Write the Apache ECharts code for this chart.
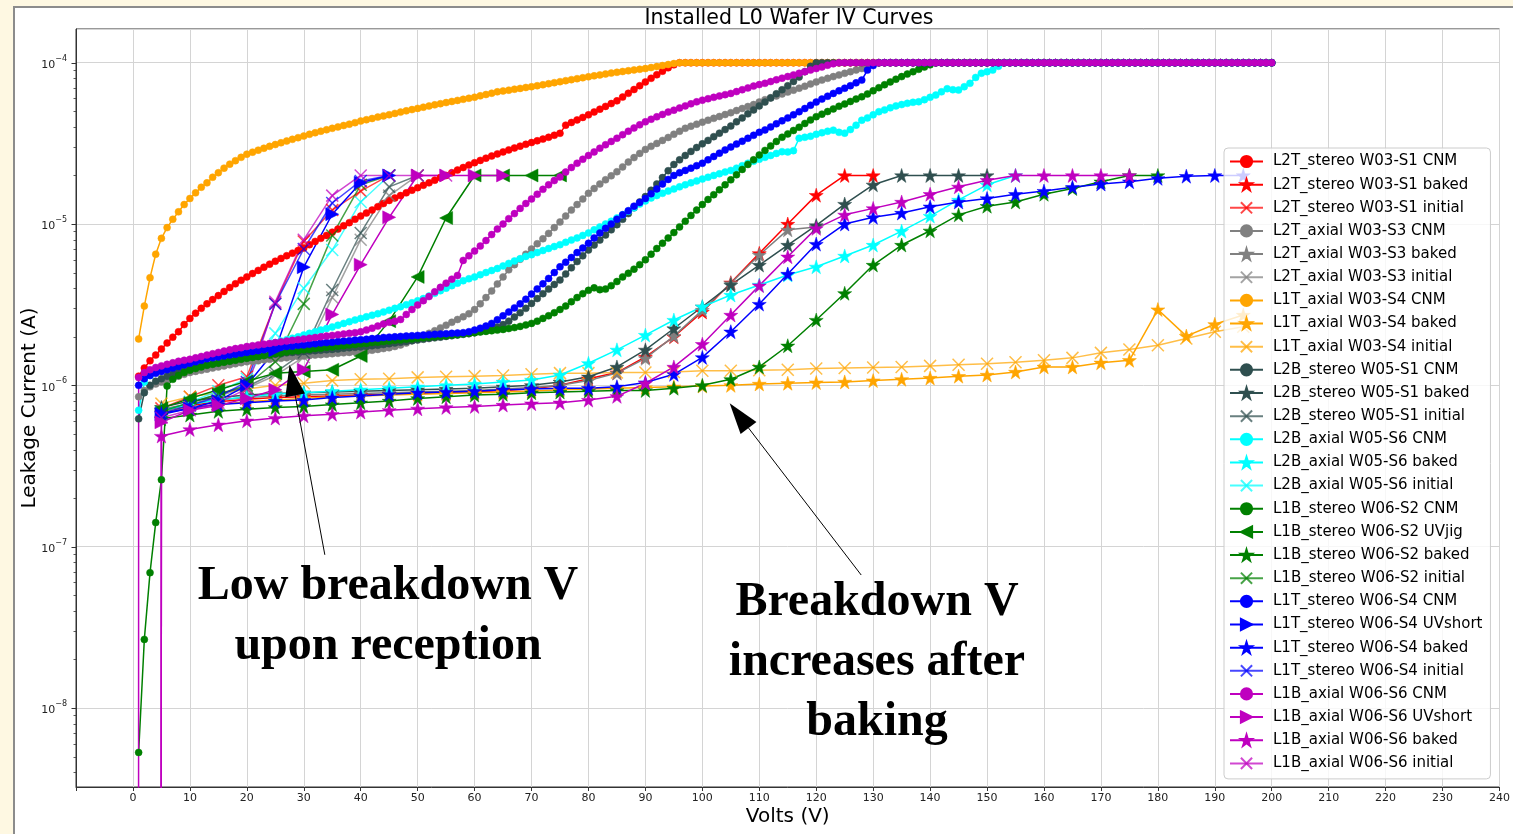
<!DOCTYPE html>
<html>
<head>
<meta charset="utf-8">
<title>Installed L0 Wafer IV Curves</title>
<script src="https://cdn.jsdelivr.net/npm/echarts@6/dist/echarts.min.js"></script>
<style>
  html, body { margin: 0; padding: 0; width: 1513px; height: 834px; overflow: hidden; background: #fef8e2; }
  #frame { position: absolute; left: 13px; top: 6px; width: 1530px; height: 850px; background: #ffffff; border: 2px solid #8c8c8c; box-sizing: border-box; }
  #chart { position: absolute; left: 0; top: 0; width: 1513px; height: 834px; }
</style>
</head>
<body>
<div id="frame"></div>
<div id="chart"></div>
<script>
// Bias voltage grids (V): CNM sweeps in 1 V steps, the other sweeps in 5 V steps.
const VOLTS_CNM = [
  0,1,2,3,4,5,6,7,8,9,10,11,12,13,14,15,16,17,18,19,20,21,22,23,24,25,26,27,28,29,30,
  31,32,33,34,35,36,37,38,39,40,41,42,43,44,45,46,47,48,49,50,51,52,53,54,55,56,57,58,59,60,
  61,62,63,64,65,66,67,68,69,70,71,72,73,74,75,76,77,78,79,80,81,82,83,84,85,86,87,88,89,90,
  91,92,93,94,95,96,97,98,99,100,101,102,103,104,105,106,107,108,109,110,111,112,113,114,115,116,117,118,119,120,
  121,122,123,124,125,126,127,128,129,130,131,132,133,134,135,136,137,138,139,140,141,142,143,144,145,146,147,148,149,150,
  151,152,153,154,155,156,157,158,159,160,161,162,163,164,165,166,167,168,169,170,171,172,173,174,175,176,177,178,179,180,
  181,182,183,184,185,186,187,188,189,190,191,192,193,194,195,196,197,198,199,200
];
const VOLTS_STEP = [0,5,10,15,20,25,30,35,40,45,50,55,60,65,70,75,80,85,90,95,100,105,110,115,120,125,130,135,140,145,150,155,160,165,170,175,180,185,190,195,200];

// Leakage current (A). null = no reading; 1e-300 = zero-bias reading of 0 A (falls off the log axis).
const cnmL2TstereoW03S1 = [null,
  1.14e-6,1.28e-6,1.42e-6,1.54e-6,1.68e-6,1.83e-6,1.99e-6,2.15e-6,2.38e-6,2.6e-6,
  2.8e-6,3.0e-6,3.2e-6,3.4e-6,3.6e-6,3.82e-6,4.04e-6,4.26e-6,4.48e-6,4.7e-6,
  4.93e-6,5.16e-6,5.4e-6,5.64e-6,5.88e-6,6.12e-6,6.36e-6,6.6e-6,6.85e-6,7.1e-6,
  7.45e-6,7.8e-6,8.15e-6,8.5e-6,8.9e-6,9.3e-6,9.75e-6,1.02e-5,1.07e-5,1.12e-5,
  1.17e-5,1.22e-5,1.28e-5,1.34e-5,1.4e-5,1.45e-5,1.5e-5,1.56e-5,1.62e-5,1.68e-5,
  1.74e-5,1.8e-5,1.87e-5,1.94e-5,2.0e-5,2.08e-5,2.16e-5,2.24e-5,2.32e-5,2.4e-5,
  2.48e-5,2.56e-5,2.64e-5,2.72e-5,2.8e-5,2.88e-5,2.96e-5,3.04e-5,3.12e-5,3.2e-5,
  3.28e-5,3.36e-5,3.45e-5,3.55e-5,3.65e-5,4.1e-5,4.26e-5,4.42e-5,4.58e-5,4.75e-5,
  4.95e-5,5.15e-5,5.36e-5,5.58e-5,5.8e-5,6.12e-5,6.46e-5,6.82e-5,7.2e-5,7.6e-5,
  8.0e-5,8.42e-5,8.86e-5,9.3e-5,9.7e-5,1e-4,1e-4,1e-4,1e-4,1e-4,
  1e-4,1e-4,1e-4,1e-4,1e-4,1e-4,1e-4,1e-4,1e-4,1e-4,
  1e-4,1e-4,1e-4,1e-4,1e-4,1e-4,1e-4,1e-4,1e-4,1e-4,
  1e-4,1e-4,1e-4,1e-4,1e-4,1e-4,1e-4,1e-4,1e-4,1e-4,
  1e-4,1e-4,1e-4,1e-4,1e-4,1e-4,1e-4,1e-4,1e-4,1e-4,
  1e-4,1e-4,1e-4,1e-4,1e-4,1e-4,1e-4,1e-4,1e-4,1e-4,
  1e-4,1e-4,1e-4,1e-4,1e-4,1e-4,1e-4,1e-4,1e-4,1e-4,
  1e-4,1e-4,1e-4,1e-4,1e-4,1e-4,1e-4,1e-4,1e-4,1e-4,
  1e-4,1e-4,1e-4,1e-4,1e-4,1e-4,1e-4,1e-4,1e-4,1e-4,
  1e-4,1e-4,1e-4,1e-4,1e-4,1e-4,1e-4,1e-4,1e-4,1e-4,
  1e-4,1e-4,1e-4,1e-4,1e-4,1e-4,1e-4,1e-4,1e-4,1e-4
];
const bakedL2TstereoW03S1 = [null,7.0e-7,7.5e-7,7.9e-7,8.2e-7,8.4e-7,8.5e-7,8.6e-7,8.7e-7,8.8e-7,8.9e-7,9.0e-7,9.1e-7,9.3e-7,9.5e-7,1.0e-6,1.1e-6,1.2e-6,1.5e-6,2.0e-6,2.85e-6,4.33e-6,6.58e-6,1.0e-5,1.51e-5,2.0e-5,2.0e-5];
const initialL2TstereoW03S1 = [null,7.2e-7,8.5e-7,1.0e-6,1.13e-6,3.22e-6,7.8e-6,1.22e-5,1.6e-5,2.0e-5];

const cnmL2TaxialW03S3 = [null,
  8.5e-7,9.3e-7,9.8e-7,1.02e-6,1.05e-6,1.08e-6,1.11e-6,1.14e-6,1.17e-6,1.2e-6,
  1.22e-6,1.24e-6,1.26e-6,1.28e-6,1.3e-6,1.32e-6,1.34e-6,1.36e-6,1.38e-6,1.4e-6,
  1.41e-6,1.42e-6,1.44e-6,1.45e-6,1.46e-6,1.47e-6,1.48e-6,1.5e-6,1.51e-6,1.52e-6,
  1.53e-6,1.54e-6,1.55e-6,1.56e-6,1.57e-6,1.58e-6,1.59e-6,1.6e-6,1.61e-6,1.62e-6,
  1.63e-6,1.65e-6,1.67e-6,1.69e-6,1.71e-6,1.74e-6,1.78e-6,1.83e-6,1.89e-6,1.95e-6,
  2.02e-6,2.1e-6,2.18e-6,2.27e-6,2.36e-6,2.46e-6,2.56e-6,2.66e-6,2.78e-6,2.95e-6,
  3.2e-6,3.5e-6,3.85e-6,4.25e-6,4.7e-6,5.2e-6,5.6e-6,6.05e-6,6.5e-6,7.0e-6,
  7.55e-6,8.1e-6,8.75e-6,9.5e-6,1.03e-5,1.12e-5,1.22e-5,1.32e-5,1.43e-5,1.55e-5,
  1.66e-5,1.77e-5,1.88e-5,1.99e-5,2.11e-5,2.26e-5,2.42e-5,2.58e-5,2.74e-5,2.9e-5,
  3.03e-5,3.16e-5,3.3e-5,3.44e-5,3.6e-5,3.76e-5,3.92e-5,4.04e-5,4.16e-5,4.28e-5,
  4.4e-5,4.52e-5,4.64e-5,4.77e-5,4.9e-5,5.05e-5,5.2e-5,5.35e-5,5.5e-5,5.7e-5,
  5.9e-5,6.06e-5,6.22e-5,6.4e-5,6.58e-5,6.76e-5,6.95e-5,7.15e-5,7.38e-5,7.6e-5,
  7.8e-5,8.0e-5,8.2e-5,8.4e-5,8.6e-5,8.8e-5,9.0e-5,9.2e-5,9.45e-5,9.75e-5,
  1e-4,1e-4,1e-4,1e-4,1e-4,1e-4,1e-4,1e-4,1e-4,1e-4,
  1e-4,1e-4,1e-4,1e-4,1e-4,1e-4,1e-4,1e-4,1e-4,1e-4,
  1e-4,1e-4,1e-4,1e-4,1e-4,1e-4,1e-4,1e-4,1e-4,1e-4,
  1e-4,1e-4,1e-4,1e-4,1e-4,1e-4,1e-4,1e-4,1e-4,1e-4,
  1e-4,1e-4,1e-4,1e-4,1e-4,1e-4,1e-4,1e-4,1e-4,1e-4,
  1e-4,1e-4,1e-4,1e-4,1e-4,1e-4,1e-4,1e-4,1e-4,1e-4,
  1e-4,1e-4,1e-4,1e-4,1e-4,1e-4,1e-4,1e-4,1e-4,1e-4
];
const bakedL2TaxialW03S3 = [null,7.1e-7,7.7e-7,8.1e-7,8.4e-7,8.6e-7,8.7e-7,8.8e-7,8.9e-7,9.0e-7,9.1e-7,9.2e-7,9.3e-7,9.5e-7,9.7e-7,1.0e-6,1.07e-6,1.19e-6,1.47e-6,2.02e-6,2.93e-6,4.29e-6,6.43e-6,9.2e-6,9.6e-6];
const initialL2TaxialW03S3 = [null,6.6e-7,7.6e-7,8.6e-7,9.6e-7,1.15e-6,1.5e-6,3.5e-6,8.0e-6,1.5e-5,2.0e-5];

const cnmL1TaxialW03S4 = [null,
  1.94e-6,3.1e-6,4.65e-6,6.5e-6,8.15e-6,9.5e-6,1.07e-5,1.19e-5,1.32e-5,1.44e-5,
  1.56e-5,1.69e-5,1.8e-5,1.95e-5,2.08e-5,2.22e-5,2.35e-5,2.47e-5,2.59e-5,2.71e-5,
  2.79e-5,2.87e-5,2.95e-5,3.03e-5,3.11e-5,3.19e-5,3.27e-5,3.35e-5,3.43e-5,3.51e-5,
  3.6e-5,3.68e-5,3.76e-5,3.84e-5,3.92e-5,4.0e-5,4.08e-5,4.16e-5,4.25e-5,4.35e-5,
  4.43e-5,4.51e-5,4.6e-5,4.68e-5,4.76e-5,4.85e-5,4.94e-5,5.03e-5,5.12e-5,5.21e-5,
  5.3e-5,5.39e-5,5.48e-5,5.57e-5,5.66e-5,5.75e-5,5.84e-5,5.93e-5,6.02e-5,6.11e-5,
  6.23e-5,6.35e-5,6.47e-5,6.6e-5,6.68e-5,6.76e-5,6.85e-5,6.93e-5,7.02e-5,7.1e-5,
  7.2e-5,7.3e-5,7.41e-5,7.52e-5,7.63e-5,7.74e-5,7.85e-5,7.96e-5,8.07e-5,8.18e-5,
  8.29e-5,8.4e-5,8.51e-5,8.62e-5,8.72e-5,8.82e-5,8.92e-5,9.02e-5,9.11e-5,9.2e-5,
  9.33e-5,9.46e-5,9.6e-5,9.74e-5,9.88e-5,1e-4,1e-4,1e-4,1e-4,1e-4,
  1e-4,1e-4,1e-4,1e-4,1e-4,1e-4,1e-4,1e-4,1e-4,1e-4,
  1e-4,1e-4,1e-4,1e-4,1e-4,1e-4,1e-4,1e-4,1e-4,1e-4,
  1e-4,1e-4,1e-4,1e-4,1e-4,1e-4,1e-4,1e-4,1e-4,1e-4,
  1e-4,1e-4,1e-4,1e-4,1e-4,1e-4,1e-4,1e-4,1e-4,1e-4,
  1e-4,1e-4,1e-4,1e-4,1e-4,1e-4,1e-4,1e-4,1e-4,1e-4,
  1e-4,1e-4,1e-4,1e-4,1e-4,1e-4,1e-4,1e-4,1e-4,1e-4,
  1e-4,1e-4,1e-4,1e-4,1e-4,1e-4,1e-4,1e-4,1e-4,1e-4,
  1e-4,1e-4,1e-4,1e-4,1e-4,1e-4,1e-4,1e-4,1e-4,1e-4,
  1e-4,1e-4,1e-4,1e-4,1e-4,1e-4,1e-4,1e-4,1e-4,1e-4,
  1e-4,1e-4,1e-4,1e-4,1e-4,1e-4,1e-4,1e-4,1e-4,1e-4
];
const bakedL1TaxialW03S4 = [null,6.8e-7,7.3e-7,7.6e-7,7.9e-7,8.1e-7,8.3e-7,8.5e-7,8.6e-7,8.7e-7,8.8e-7,8.9e-7,9.0e-7,9.1e-7,9.2e-7,9.4e-7,9.5e-7,9.6e-7,9.7e-7,9.8e-7,9.9e-7,1.0e-6,1.02e-6,1.03e-6,1.04e-6,1.05e-6,1.07e-6,1.09e-6,1.11e-6,1.14e-6,1.16e-6,1.21e-6,1.3e-6,1.3e-6,1.38e-6,1.43e-6,2.95e-6,2.02e-6,2.39e-6,2.73e-6];
const initialL1TaxialW03S4 = [null,7.7e-7,8.5e-7,9.0e-7,9.5e-7,1.0e-6,1.03e-6,1.07e-6,1.09e-6,1.1e-6,1.12e-6,1.13e-6,1.14e-6,1.15e-6,1.17e-6,1.19e-6,1.19e-6,1.2e-6,1.2e-6,1.21e-6,1.23e-6,1.23e-6,1.24e-6,1.25e-6,1.27e-6,1.28e-6,1.29e-6,1.3e-6,1.32e-6,1.34e-6,1.36e-6,1.39e-6,1.43e-6,1.48e-6,1.59e-6,1.67e-6,1.77e-6,1.95e-6,2.15e-6,2.31e-6];

const cnmL2BstereoW05S1 = [null,
  6.2e-7,9.0e-7,1.0e-6,1.06e-6,1.1e-6,1.14e-6,1.18e-6,1.21e-6,1.24e-6,1.27e-6,
  1.3e-6,1.32e-6,1.34e-6,1.36e-6,1.38e-6,1.4e-6,1.42e-6,1.44e-6,1.46e-6,1.48e-6,
  1.5e-6,1.51e-6,1.53e-6,1.54e-6,1.56e-6,1.57e-6,1.59e-6,1.6e-6,1.61e-6,1.62e-6,
  1.63e-6,1.64e-6,1.65e-6,1.66e-6,1.67e-6,1.68e-6,1.7e-6,1.71e-6,1.72e-6,1.73e-6,
  1.74e-6,1.76e-6,1.77e-6,1.79e-6,1.81e-6,1.83e-6,1.85e-6,1.87e-6,1.89e-6,1.91e-6,
  1.93e-6,1.95e-6,1.97e-6,1.99e-6,2.01e-6,2.03e-6,2.05e-6,2.07e-6,2.09e-6,2.12e-6,
  2.16e-6,2.2e-6,2.25e-6,2.3e-6,2.38e-6,2.5e-6,2.65e-6,2.82e-6,3.0e-6,3.22e-6,
  3.45e-6,3.7e-6,3.95e-6,4.22e-6,4.5e-6,4.9e-6,5.35e-6,5.85e-6,6.35e-6,6.9e-6,
  7.4e-6,7.95e-6,8.55e-6,9.2e-6,9.9e-6,1.07e-5,1.16e-5,1.26e-5,1.37e-5,1.48e-5,
  1.62e-5,1.77e-5,1.94e-5,2.14e-5,2.34e-5,2.5e-5,2.66e-5,2.82e-5,2.98e-5,3.14e-5,
  3.3e-5,3.48e-5,3.66e-5,3.85e-5,4.05e-5,4.3e-5,4.55e-5,4.82e-5,5.1e-5,5.4e-5,
  5.7e-5,6.05e-5,6.42e-5,6.8e-5,7.2e-5,7.65e-5,8.15e-5,8.8e-5,9.5e-5,1e-4,
  1e-4,1e-4,1e-4,1e-4,1e-4,1e-4,1e-4,1e-4,1e-4,1e-4,
  1e-4,1e-4,1e-4,1e-4,1e-4,1e-4,1e-4,1e-4,1e-4,1e-4,
  1e-4,1e-4,1e-4,1e-4,1e-4,1e-4,1e-4,1e-4,1e-4,1e-4,
  1e-4,1e-4,1e-4,1e-4,1e-4,1e-4,1e-4,1e-4,1e-4,1e-4,
  1e-4,1e-4,1e-4,1e-4,1e-4,1e-4,1e-4,1e-4,1e-4,1e-4,
  1e-4,1e-4,1e-4,1e-4,1e-4,1e-4,1e-4,1e-4,1e-4,1e-4,
  1e-4,1e-4,1e-4,1e-4,1e-4,1e-4,1e-4,1e-4,1e-4,1e-4,
  1e-4,1e-4,1e-4,1e-4,1e-4,1e-4,1e-4,1e-4,1e-4,1e-4
];
const bakedL2BstereoW05S1 = [null,7.3e-7,8.0e-7,8.4e-7,8.7e-7,8.9e-7,9.0e-7,9.1e-7,9.2e-7,9.3e-7,9.4e-7,9.5e-7,9.6e-7,9.8e-7,1.0e-6,1.05e-6,1.13e-6,1.3e-6,1.66e-6,2.25e-6,3.07e-6,4.19e-6,5.57e-6,7.41e-6,9.8e-6,1.33e-5,1.75e-5,2.0e-5,2.0e-5,2.0e-5,2.0e-5];
const initialL2BstereoW05S1 = [null,6.8e-7,7.8e-7,8.8e-7,9.8e-7,1.2e-6,1.6e-6,3.9e-6,8.8e-6,1.7e-5,2.0e-5];

const cnmL2BaxialW05S6 = [null,
  7.0e-7,1.05e-6,1.15e-6,1.21e-6,1.26e-6,1.3e-6,1.33e-6,1.36e-6,1.39e-6,1.42e-6,
  1.45e-6,1.48e-6,1.5e-6,1.53e-6,1.55e-6,1.57e-6,1.6e-6,1.62e-6,1.65e-6,1.68e-6,
  1.71e-6,1.74e-6,1.77e-6,1.8e-6,1.84e-6,1.88e-6,1.92e-6,1.96e-6,2.0e-6,2.05e-6,
  2.1e-6,2.15e-6,2.2e-6,2.25e-6,2.3e-6,2.36e-6,2.42e-6,2.48e-6,2.54e-6,2.6e-6,
  2.66e-6,2.72e-6,2.78e-6,2.85e-6,2.92e-6,3.0e-6,3.07e-6,3.16e-6,3.25e-6,3.34e-6,
  3.45e-6,3.58e-6,3.72e-6,3.86e-6,4.0e-6,4.15e-6,4.3e-6,4.45e-6,4.58e-6,4.7e-6,
  4.85e-6,5.0e-6,5.15e-6,5.3e-6,5.5e-6,5.7e-6,5.9e-6,6.1e-6,6.3e-6,6.45e-6,
  6.65e-6,6.85e-6,7.05e-6,7.25e-6,7.45e-6,7.7e-6,7.95e-6,8.2e-6,8.5e-6,8.8e-6,
  9.2e-6,9.6e-6,1.0e-5,1.04e-5,1.09e-5,1.14e-5,1.2e-5,1.26e-5,1.33e-5,1.39e-5,
  1.45e-5,1.5e-5,1.55e-5,1.6e-5,1.65e-5,1.7e-5,1.75e-5,1.8e-5,1.85e-5,1.9e-5,
  1.95e-5,2.0e-5,2.05e-5,2.1e-5,2.15e-5,2.22e-5,2.3e-5,2.38e-5,2.45e-5,2.52e-5,
  2.59e-5,2.66e-5,2.74e-5,2.81e-5,2.8e-5,2.85e-5,3.4e-5,3.45e-5,3.5e-5,3.6e-5,
  3.68e-5,3.76e-5,3.82e-5,3.7e-5,3.66e-5,3.85e-5,4.1e-5,4.4e-5,4.55e-5,4.75e-5,
  4.97e-5,5.1e-5,5.25e-5,5.4e-5,5.5e-5,5.6e-5,5.68e-5,5.73e-5,5.9e-5,6.1e-5,
  6.3e-5,6.6e-5,6.9e-5,6.8e-5,6.77e-5,7.1e-5,7.45e-5,8.1e-5,8.6e-5,8.8e-5,
  9.0e-5,9.5e-5,1e-4,1e-4,1e-4,1e-4,1e-4,1e-4,1e-4,1e-4,
  1e-4,1e-4,1e-4,1e-4,1e-4,1e-4,1e-4,1e-4,1e-4,1e-4,
  1e-4,1e-4,1e-4,1e-4,1e-4,1e-4,1e-4,1e-4,1e-4,1e-4,
  1e-4,1e-4,1e-4,1e-4,1e-4,1e-4,1e-4,1e-4,1e-4,1e-4,
  1e-4,1e-4,1e-4,1e-4,1e-4,1e-4,1e-4,1e-4,1e-4,1e-4
];
const bakedL2BaxialW05S6 = [null,7.0e-7,7.6e-7,8.1e-7,8.5e-7,8.8e-7,9.0e-7,9.2e-7,9.4e-7,9.6e-7,9.8e-7,1.0e-6,1.02e-6,1.05e-6,1.08e-6,1.16e-6,1.37e-6,1.66e-6,2.05e-6,2.54e-6,3.07e-6,3.63e-6,4.19e-6,4.83e-6,5.43e-6,6.34e-6,7.41e-6,9.04e-6,1.12e-5,1.41e-5,1.75e-5,2.0e-5];
const initialL2BaxialW05S6 = [null,6.8e-7,7.9e-7,9.2e-7,1.1e-6,2.1e-6,4.0e-6,6.9e-6,1.37e-5,2.0e-5];

const cnmL1BstereoW06S2 = [null,
  5.3e-9,2.66e-8,6.9e-8,1.41e-7,2.6e-7,9.9e-7,1.09e-6,1.15e-6,1.2e-6,1.24e-6,
  1.27e-6,1.3e-6,1.33e-6,1.35e-6,1.37e-6,1.39e-6,1.41e-6,1.43e-6,1.45e-6,1.47e-6,
  1.49e-6,1.51e-6,1.53e-6,1.55e-6,1.57e-6,1.59e-6,1.61e-6,1.63e-6,1.64e-6,1.66e-6,
  1.67e-6,1.69e-6,1.7e-6,1.72e-6,1.73e-6,1.75e-6,1.76e-6,1.78e-6,1.79e-6,1.81e-6,
  1.82e-6,1.84e-6,1.85e-6,1.87e-6,1.88e-6,1.9e-6,1.91e-6,1.93e-6,1.94e-6,1.96e-6,
  1.97e-6,1.99e-6,2.0e-6,2.02e-6,2.03e-6,2.05e-6,2.06e-6,2.08e-6,2.1e-6,2.12e-6,
  2.14e-6,2.16e-6,2.18e-6,2.2e-6,2.22e-6,2.25e-6,2.28e-6,2.32e-6,2.37e-6,2.42e-6,
  2.5e-6,2.6e-6,2.7e-6,2.82e-6,2.95e-6,3.1e-6,3.3e-6,3.5e-6,3.7e-6,3.88e-6,
  4.02e-6,3.92e-6,3.95e-6,4.15e-6,4.4e-6,4.7e-6,4.95e-6,5.25e-6,5.6e-6,6.0e-6,
  6.5e-6,7.05e-6,7.6e-6,8.2e-6,8.85e-6,9.6e-6,1.04e-5,1.13e-5,1.22e-5,1.32e-5,
  1.42e-5,1.52e-5,1.63e-5,1.75e-5,1.88e-5,2.02e-5,2.18e-5,2.34e-5,2.5e-5,2.68e-5,
  2.86e-5,3.05e-5,3.25e-5,3.45e-5,3.62e-5,3.8e-5,3.98e-5,4.2e-5,4.42e-5,4.63e-5,
  4.8e-5,4.98e-5,5.17e-5,5.37e-5,5.55e-5,5.75e-5,5.95e-5,6.15e-5,6.4e-5,6.7e-5,
  7.0e-5,7.3e-5,7.6e-5,7.9e-5,8.2e-5,8.5e-5,8.8e-5,9.1e-5,9.4e-5,9.7e-5,
  1e-4,1e-4,1e-4,1e-4,1e-4,1e-4,1e-4,1e-4,1e-4,1e-4,
  1e-4,1e-4,1e-4,1e-4,1e-4,1e-4,1e-4,1e-4,1e-4,1e-4,
  1e-4,1e-4,1e-4,1e-4,1e-4,1e-4,1e-4,1e-4,1e-4,1e-4,
  1e-4,1e-4,1e-4,1e-4,1e-4,1e-4,1e-4,1e-4,1e-4,1e-4,
  1e-4,1e-4,1e-4,1e-4,1e-4,1e-4,1e-4,1e-4,1e-4,1e-4,
  1e-4,1e-4,1e-4,1e-4,1e-4,1e-4,1e-4,1e-4,1e-4,1e-4
];
const uvjigL1BstereoW06S2 = [null,7.2e-7,8.3e-7,9.4e-7,1.06e-6,1.19e-6,1.22e-6,1.25e-6,1.52e-6,2.5e-6,4.7e-6,1.09e-5,2.0e-5,2.0e-5,2.0e-5,2.0e-5];
const bakedL1BstereoW06S2 = [null,6.2e-7,6.55e-7,6.9e-7,7.1e-7,7.3e-7,7.4e-7,7.6e-7,7.8e-7,8.0e-7,8.3e-7,8.5e-7,8.7e-7,8.8e-7,9.0e-7,9.1e-7,9.2e-7,9.3e-7,9.3e-7,9.6e-7,1.0e-6,1.09e-6,1.3e-6,1.76e-6,2.54e-6,3.72e-6,5.57e-6,7.41e-6,9.08e-6,1.14e-5,1.29e-5,1.37e-5,1.53e-5,1.66e-5,1.83e-5,2.0e-5,2.0e-5];
const initialL1BstereoW06S2 = [null,6.9e-7,7.8e-7,8.8e-7,1.0e-6,1.4e-6,3.2e-6,8.5e-6,1.75e-5,2.0e-5];

const cnmL1TstereoW06S4 = [null,
  1.0e-6,1.1e-6,1.15e-6,1.19e-6,1.22e-6,1.25e-6,1.28e-6,1.31e-6,1.34e-6,1.37e-6,
  1.4e-6,1.43e-6,1.46e-6,1.48e-6,1.5e-6,1.52e-6,1.54e-6,1.56e-6,1.58e-6,1.6e-6,
  1.62e-6,1.64e-6,1.66e-6,1.68e-6,1.7e-6,1.72e-6,1.74e-6,1.75e-6,1.77e-6,1.78e-6,
  1.8e-6,1.81e-6,1.83e-6,1.84e-6,1.85e-6,1.87e-6,1.88e-6,1.89e-6,1.91e-6,1.92e-6,
  1.93e-6,1.95e-6,1.96e-6,1.98e-6,1.99e-6,2.0e-6,2.01e-6,2.02e-6,2.03e-6,2.04e-6,
  2.05e-6,2.06e-6,2.07e-6,2.08e-6,2.09e-6,2.1e-6,2.11e-6,2.12e-6,2.15e-6,2.2e-6,
  2.26e-6,2.33e-6,2.42e-6,2.55e-6,2.7e-6,2.85e-6,3.02e-6,3.2e-6,3.42e-6,3.68e-6,
  3.96e-6,4.26e-6,4.6e-6,5.0e-6,5.43e-6,5.8e-6,6.2e-6,6.65e-6,7.1e-6,7.6e-6,
  8.2e-6,8.8e-6,9.4e-6,1.0e-5,1.07e-5,1.14e-5,1.21e-5,1.29e-5,1.36e-5,1.44e-5,
  1.54e-5,1.65e-5,1.77e-5,1.89e-5,2.0e-5,2.08e-5,2.15e-5,2.22e-5,2.3e-5,2.38e-5,
  2.5e-5,2.62e-5,2.75e-5,2.88e-5,3.0e-5,3.13e-5,3.26e-5,3.4e-5,3.55e-5,3.7e-5,
  3.83e-5,4.0e-5,4.18e-5,4.36e-5,4.55e-5,4.75e-5,4.97e-5,5.2e-5,5.45e-5,5.7e-5,
  5.95e-5,6.2e-5,6.45e-5,6.7e-5,6.95e-5,7.2e-5,7.5e-5,7.8e-5,9.0e-5,9.6e-5,
  1e-4,1e-4,1e-4,1e-4,1e-4,1e-4,1e-4,1e-4,1e-4,1e-4,
  1e-4,1e-4,1e-4,1e-4,1e-4,1e-4,1e-4,1e-4,1e-4,1e-4,
  1e-4,1e-4,1e-4,1e-4,1e-4,1e-4,1e-4,1e-4,1e-4,1e-4,
  1e-4,1e-4,1e-4,1e-4,1e-4,1e-4,1e-4,1e-4,1e-4,1e-4,
  1e-4,1e-4,1e-4,1e-4,1e-4,1e-4,1e-4,1e-4,1e-4,1e-4,
  1e-4,1e-4,1e-4,1e-4,1e-4,1e-4,1e-4,1e-4,1e-4,1e-4,
  1e-4,1e-4,1e-4,1e-4,1e-4,1e-4,1e-4,1e-4,1e-4,1e-4
];
const uvshortL1TstereoW06S4 = [null,6.6e-7,7.2e-7,8.0e-7,1.0e-6,1.65e-6,5.4e-6,1.15e-5,1.8e-5,2.0e-5];
const bakedL1TstereoW06S4 = [null,6.7e-7,7.2e-7,7.6e-7,7.8e-7,8.0e-7,8.1e-7,8.4e-7,8.6e-7,8.8e-7,9.0e-7,9.1e-7,9.2e-7,9.4e-7,9.5e-7,9.6e-7,9.6e-7,9.8e-7,1.04e-6,1.17e-6,1.49e-6,2.15e-6,3.19e-6,4.9e-6,7.51e-6,1.0e-5,1.1e-5,1.17e-5,1.28e-5,1.37e-5,1.44e-5,1.53e-5,1.6e-5,1.69e-5,1.77e-5,1.83e-5,1.92e-5,1.98e-5,2.0e-5,2.0e-5];
const initialL1TstereoW06S4 = [null,6.7e-7,7.5e-7,8.5e-7,1.05e-6,3.2e-6,7.0e-6,1.35e-5,1.85e-5,2.0e-5];

const cnmL1BaxialW06S6 = [1e-300,
  1.12e-6,1.2e-6,1.25e-6,1.29e-6,1.32e-6,1.35e-6,1.38e-6,1.41e-6,1.43e-6,1.45e-6,
  1.48e-6,1.51e-6,1.54e-6,1.57e-6,1.6e-6,1.63e-6,1.66e-6,1.69e-6,1.71e-6,1.74e-6,
  1.76e-6,1.78e-6,1.8e-6,1.82e-6,1.84e-6,1.86e-6,1.88e-6,1.9e-6,1.92e-6,1.94e-6,
  1.96e-6,1.98e-6,2.0e-6,2.02e-6,2.04e-6,2.06e-6,2.08e-6,2.1e-6,2.12e-6,2.15e-6,
  2.2e-6,2.26e-6,2.33e-6,2.4e-6,2.46e-6,2.5e-6,2.56e-6,2.75e-6,2.95e-6,3.15e-6,
  3.35e-6,3.55e-6,3.8e-6,4.05e-6,4.3e-6,4.55e-6,4.8e-6,5.95e-6,6.35e-6,6.8e-6,
  7.3e-6,7.9e-6,8.6e-6,9.3e-6,1.0e-5,1.08e-5,1.16e-5,1.25e-5,1.34e-5,1.43e-5,
  1.53e-5,1.64e-5,1.75e-5,1.86e-5,1.96e-5,2.1e-5,2.24e-5,2.38e-5,2.52e-5,2.66e-5,
  2.8e-5,2.95e-5,3.1e-5,3.25e-5,3.4e-5,3.58e-5,3.76e-5,3.94e-5,4.12e-5,4.3e-5,
  4.46e-5,4.62e-5,4.78e-5,4.94e-5,5.08e-5,5.24e-5,5.4e-5,5.56e-5,5.72e-5,5.86e-5,
  5.98e-5,6.1e-5,6.22e-5,6.34e-5,6.45e-5,6.62e-5,6.8e-5,6.98e-5,7.16e-5,7.32e-5,
  7.45e-5,7.64e-5,7.83e-5,8.02e-5,8.21e-5,8.4e-5,8.6e-5,8.8e-5,9.0e-5,9.2e-5,
  9.4e-5,9.65e-5,9.85e-5,1e-4,1e-4,1e-4,1e-4,1e-4,1e-4,1e-4,
  1e-4,1e-4,1e-4,1e-4,1e-4,1e-4,1e-4,1e-4,1e-4,1e-4,
  1e-4,1e-4,1e-4,1e-4,1e-4,1e-4,1e-4,1e-4,1e-4,1e-4,
  1e-4,1e-4,1e-4,1e-4,1e-4,1e-4,1e-4,1e-4,1e-4,1e-4,
  1e-4,1e-4,1e-4,1e-4,1e-4,1e-4,1e-4,1e-4,1e-4,1e-4,
  1e-4,1e-4,1e-4,1e-4,1e-4,1e-4,1e-4,1e-4,1e-4,1e-4,
  1e-4,1e-4,1e-4,1e-4,1e-4,1e-4,1e-4,1e-4,1e-4,1e-4,
  1e-4,1e-4,1e-4,1e-4,1e-4,1e-4,1e-4,1e-4,1e-4,1e-4
];
const uvshortL1BaxialW06S6 = [1e-300,5.9e-7,7.0e-7,7.5e-7,8.3e-7,9.4e-7,1.25e-6,2.75e-6,5.6e-6,1.1e-5,2.0e-5,2.0e-5,2.0e-5,2.0e-5];
const bakedL1BaxialW06S6 = [1e-300,4.85e-7,5.33e-7,5.7e-7,6.03e-7,6.27e-7,6.47e-7,6.63e-7,6.83e-7,7.0e-7,7.15e-7,7.3e-7,7.4e-7,7.55e-7,7.7e-7,7.8e-7,8.1e-7,8.55e-7,1.03e-6,1.3e-6,1.8e-6,2.73e-6,4.15e-6,6.27e-6,9.4e-6,1.14e-5,1.25e-5,1.37e-5,1.53e-5,1.7e-5,1.87e-5,2.0e-5,2.0e-5,2.0e-5,2.0e-5,2.0e-5];
const initialL1BaxialW06S6 = [1e-300,6.3e-7,7.0e-7,7.8e-7,9.5e-7,3.3e-6,8.0e-6,1.5e-5,2.0e-5,2.0e-5,2.0e-5,2.0e-5];

// Annotation arrows: [tail, head] in (V, A).
const arrowLowBreakdown = [[33.7, 8.9e-8], [27.5, 1.34e-6]];
const arrowBakedBreakdown = [[127.9, 6.67e-8], [104.8, 7.73e-7]];

const COLORS = {
  red: '#ff0000', gray: '#808080', orange: '#ffa500', slate: '#2f4f4f',
  cyan: '#00ffff', green: '#008000', blue: '#0000ff', magenta: '#bf00bf'
};

const STAR = 'path://M50,0L61.23,34.55L97.55,34.55L68.16,55.9L79.39,90.45L50,69.1L20.61,90.45L31.84,55.9L2.45,34.55L38.77,34.55Z';
const CROSS = 'path://M0,0L10,10M0,10L10,0';
const TRI_RIGHT = 'path://M0,0L10,5L0,10Z';
const TRI_LEFT = 'path://M10,0L0,5L10,10Z';

const SERIES_SPEC = [
  ['L2T_stereo W03-S1 CNM', 'red', 'cnm', cnmL2TstereoW03S1],
  ['L2T_stereo W03-S1 baked', 'red', 'baked', bakedL2TstereoW03S1],
  ['L2T_stereo W03-S1 initial', 'red', 'initial', initialL2TstereoW03S1],
  ['L2T_axial W03-S3 CNM', 'gray', 'cnm', cnmL2TaxialW03S3],
  ['L2T_axial W03-S3 baked', 'gray', 'baked', bakedL2TaxialW03S3],
  ['L2T_axial W03-S3 initial', 'gray', 'initial', initialL2TaxialW03S3],
  ['L1T_axial W03-S4 CNM', 'orange', 'cnm', cnmL1TaxialW03S4],
  ['L1T_axial W03-S4 baked', 'orange', 'baked', bakedL1TaxialW03S4],
  ['L1T_axial W03-S4 initial', 'orange', 'initial', initialL1TaxialW03S4],
  ['L2B_stereo W05-S1 CNM', 'slate', 'cnm', cnmL2BstereoW05S1],
  ['L2B_stereo W05-S1 baked', 'slate', 'baked', bakedL2BstereoW05S1],
  ['L2B_stereo W05-S1 initial', 'slate', 'initial', initialL2BstereoW05S1],
  ['L2B_axial W05-S6 CNM', 'cyan', 'cnm', cnmL2BaxialW05S6],
  ['L2B_axial W05-S6 baked', 'cyan', 'baked', bakedL2BaxialW05S6],
  ['L2B_axial W05-S6 initial', 'cyan', 'initial', initialL2BaxialW05S6],
  ['L1B_stereo W06-S2 CNM', 'green', 'cnm', cnmL1BstereoW06S2],
  ['L1B_stereo W06-S2 UVjig', 'green', 'uvLeft', uvjigL1BstereoW06S2],
  ['L1B_stereo W06-S2 baked', 'green', 'baked', bakedL1BstereoW06S2],
  ['L1B_stereo W06-S2 initial', 'green', 'initial', initialL1BstereoW06S2],
  ['L1T_stereo W06-S4 CNM', 'blue', 'cnm', cnmL1TstereoW06S4],
  ['L1T_stereo W06-S4 UVshort', 'blue', 'uvRight', uvshortL1TstereoW06S4],
  ['L1T_stereo W06-S4 baked', 'blue', 'baked', bakedL1TstereoW06S4],
  ['L1T_stereo W06-S4 initial', 'blue', 'initial', initialL1TstereoW06S4],
  ['L1B_axial W06-S6 CNM', 'magenta', 'cnm', cnmL1BaxialW06S6],
  ['L1B_axial W06-S6 UVshort', 'magenta', 'uvRight', uvshortL1BaxialW06S6],
  ['L1B_axial W06-S6 baked', 'magenta', 'baked', bakedL1BaxialW06S6],
  ['L1B_axial W06-S6 initial', 'magenta', 'initial', initialL1BaxialW06S6]
];

const MARKERS = {
  cnm:     { symbol: 'circle', size: 7,  volts: VOLTS_CNM },
  baked:   { symbol: STAR,     size: 14, volts: VOLTS_STEP },
  initial: { symbol: CROSS,    size: 12, volts: VOLTS_STEP },
  uvLeft:  { symbol: TRI_LEFT, size: 13, volts: VOLTS_STEP },
  uvRight: { symbol: TRI_RIGHT,size: 13, volts: VOLTS_STEP }
};

function pairs(volts, values) {
  const out = [];
  for (let i = 0; i < values.length && i < volts.length; i++) {
    if (values[i] !== null) out.push([volts[i], values[i]]);
  }
  return out;
}

const series = SERIES_SPEC.map(([name, colorKey, kind, values]) => {
  const c = COLORS[colorKey];
  const m = MARKERS[kind];
  const alpha = kind === 'initial' ? 0.72 : 1;
  return {
    name: name,
    type: 'line',
    data: pairs(m.volts, values),
    symbol: m.symbol,
    symbolSize: m.size,
    showSymbol: true,
    clip: true,
    lineStyle: { color: c, width: 1.5, opacity: alpha },
    itemStyle: {
      color: c, opacity: alpha,
      borderColor: c,
      borderWidth: kind === 'initial' ? 1.5 : 0.5
    },
    emphasis: { disabled: true },
    animation: false
  };
});

const Y_MIN = 3.236e-9, Y_MAX = 1.618e-4;
const FONT = 'DejaVu Sans';

const option = {
  animation: false,
  backgroundColor: 'transparent',
  textStyle: { fontFamily: FONT },
  title: {
    text: 'Installed L0 Wafer IV Curves',
    left: 784, top: 3, textAlign: 'center',
    textStyle: { fontSize: 20.5, fontWeight: 'normal', color: '#000', fontFamily: FONT }
  },
  grid: {
    left: 76, top: 29, width: 1425, height: 758,
    show: true, backgroundColor: '#ffffff', borderColor: '#333', borderWidth: 1
  },
  legend: {
    orient: 'vertical', left: 1224, top: 148,
    itemWidth: 33, itemHeight: 14, itemGap: 8.15,
    padding: [6, 8, 8, 5],
    backgroundColor: 'rgba(255,255,255,0.8)',
    borderColor: '#cccccc', borderWidth: 1, borderRadius: 4,
    selectedMode: false,
    textStyle: { fontSize: 15, color: '#000', fontFamily: FONT, padding: [0, 0, 0, 5] }
  },
  xAxis: {
    type: 'value', min: -10, max: 240, interval: 10,
    name: 'Volts (V)', nameLocation: 'middle', nameGap: 20, nameMoveOverlap: false,
    nameTextStyle: { fontSize: 20, color: '#000', fontFamily: FONT },
    axisLine: { show: true, onZero: false, lineStyle: { color: '#333', width: 1 } },
    axisTick: { show: true, length: 4, lineStyle: { color: '#333' } },
    axisLabel: {
      fontSize: 11, color: '#222', margin: 6, fontFamily: FONT,
      formatter: v => (v < 0 ? '' : String(v))
    },
    splitLine: { show: true, lineStyle: { color: '#d4d4d4', width: 1 } }
  },
  yAxis: {
    type: 'log', logBase: 10, min: Y_MIN, max: Y_MAX,
    name: 'Leakage Current (A)', nameLocation: 'middle', nameGap: 36, nameMoveOverlap: false,
    nameTextStyle: { fontSize: 20, color: '#000', fontFamily: FONT },
    axisLine: { show: true, onZero: false, lineStyle: { color: '#333', width: 1 } },
    axisTick: { show: false },
    axisLabel: {
      margin: 9, color: '#222',
      formatter: function (v) {
        const e = Math.log10(v);
        const r = Math.round(e);
        if (Math.abs(e - r) > 1e-6) return '';
        return '{b|10}{s|\u2212' + Math.abs(r) + '}';
      },
      rich: {
        b: { fontSize: 11, color: '#222', fontFamily: FONT, lineHeight: 16, verticalAlign: 'bottom' },
        s: { fontSize: 8, color: '#222', fontFamily: FONT, lineHeight: 9, verticalAlign: 'top' }
      }
    },
    splitLine: { show: true, lineStyle: { color: '#d4d4d4', width: 1 } }
  },
  series: series
};

const chart = echarts.init(document.getElementById('chart'), null, { renderer: 'canvas' });
chart.setOption(option);

// Overlays positioned through the chart's own coordinate conversion.
function toPx(pt) { return chart.convertToPixel({ gridIndex: 0 }, pt); }

function arrow(spec) {
  const a = toPx(spec[0]), b = toPx(spec[1]);
  const dx = b[0] - a[0], dy = b[1] - a[1];
  const len = Math.hypot(dx, dy);
  const ux = dx / len, uy = dy / len;
  const L = 31, W = 20;
  const bx = b[0] - ux * L, by = b[1] - uy * L;
  const nx = -uy, ny = ux;
  return [
    { type: 'line', z: 100, silent: true,
      shape: { x1: a[0], y1: a[1], x2: bx, y2: by },
      style: { stroke: '#000', lineWidth: 1 } },
    { type: 'polygon', z: 100, silent: true,
      shape: { points: [[b[0], b[1]], [bx + nx * W / 2, by + ny * W / 2], [bx - nx * W / 2, by - ny * W / 2]] },
      style: { fill: '#000' } }
  ];
}

// Log-axis ticks: major at each decade, minor at 2..9 within each decade.
const axisX = 76;
const ticks = [];
for (let d = -9; d <= -4; d++) {
  for (let k = 1; k <= 9; k++) {
    const v = k * Math.pow(10, d);
    if (v < Y_MIN || v > Y_MAX) continue;
    const y = Math.round(toPx([0, v])[1]) + 0.5;
    const len = k === 1 ? 4.5 : 2.5;
    ticks.push({ type: 'line', z: 100, silent: true,
      shape: { x1: axisX - len, y1: y, x2: axisX, y2: y },
      style: { stroke: '#333', lineWidth: k === 1 ? 1 : 0.8 } });
  }
}

const NOTE_FONT = '"Liberation Serif", "DejaVu Serif", serif';
const notes = [
  { type: 'text', z: 100, silent: true, x: 388, y: 557,
    style: { text: 'Low breakdown V\nupon reception', align: 'center', verticalAlign: 'top',
      fontFamily: NOTE_FONT, fontWeight: 'bold', fontSize: 48, lineHeight: 60, fill: '#000' } },
  { type: 'text', z: 100, silent: true, x: 877, y: 573,
    style: { text: 'Breakdown V\nincreases after\nbaking', align: 'center', verticalAlign: 'top',
      fontFamily: NOTE_FONT, fontWeight: 'bold', fontSize: 48, lineHeight: 60, fill: '#000' } }
];

chart.setOption({
  graphic: [].concat(arrow(arrowLowBreakdown), arrow(arrowBakedBreakdown), ticks, notes)
});
</script>
</body>
</html>
